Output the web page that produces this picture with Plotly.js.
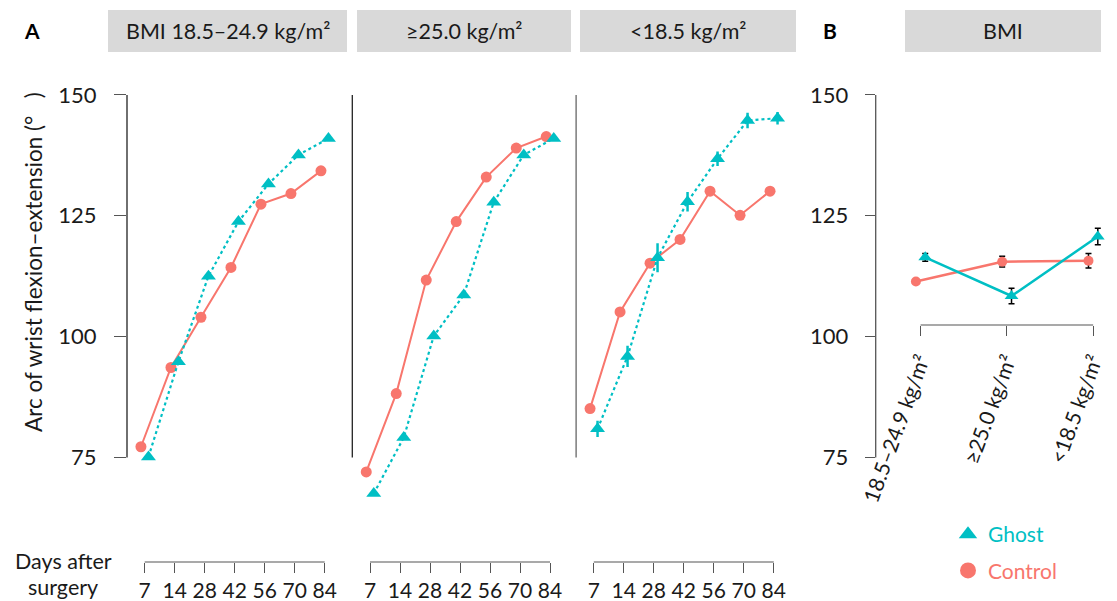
<!DOCTYPE html>
<html>
<head>
<meta charset="utf-8">
<script src="https://cdn.plot.ly/plotly-3.0.1.min.js"></script>
<style>html,body{margin:0;padding:0;background:#fff;}#chart{width:1117px;height:601px;}</style>
</head>
<body>
<div id="chart"></div>
<script>
// ---------------- DATA ----------------
const days = ['7', '14', '28', '42', '56', '70', '84'];
const facetLabels = ['BMI 18.5–24.9 kg/m²', '≥25.0 kg/m²', '<18.5 kg/m²'];
const bmiCategories = ['18.5–24.9 kg/m²', '≥25.0 kg/m²', '<18.5 kg/m²'];

// Panel A: arc of wrist flexion-extension by day (Control / Ghost)
const controlNormal = [77.2, 93.6, 104.0, 114.3, 127.4, 129.6, 134.3];
const ghostNormal   = [75.1, 94.8, 112.5, 123.8, 131.6, 137.6, 141.0];
const controlOver   = [72.0, 88.2, 111.7, 123.8, 133.0, 139.0, 141.4];
const ghostOver     = [67.5, 79.1, 100.1, 108.6, 127.8, 137.6, 141.0];
const controlUnder  = [85.1, 105.1, 115.2, 120.1, 130.1, 125.1, 130.1];
const ghostUnder    = [80.9, 95.9, 116.3, 127.9, 136.8, 144.7, 145.2];
const ghostUnderErr = [1.7, 2.2, 3.0, 2.0, 1.5, 1.6, 1.3];

// Panel B: summary by BMI group
const controlB    = [111.4, 115.5, 115.7];
const controlBErr = [0.4, 1.1, 1.5];
const ghostB      = [116.4, 108.4, 120.7];
const ghostBErr   = [0.8, 1.6, 1.7];

// ---------------- LAYOUT HELPERS ----------------
const W = 1117, H = 601;
const X = px => px / W;
const Y = py => 1 - py / H;
const GHOST = '#00BFC4', CONTROL = '#F8766D';
const FONT = 'Lato, "Open Sans", sans-serif';
const TXT = '#1a1a1a';

const idx = days.map((d, i) => i);
const dodgeA = 0.125, dodgeB = 0.054;
const shift = (arr, d) => arr.map(v => v + d);

const traces = [];
const facets = [
  {c: controlNormal, g: ghostNormal, ge: null, xa: 'x'},
  {c: controlOver, g: ghostOver, ge: null, xa: 'x2'},
  {c: controlUnder, g: ghostUnder, ge: ghostUnderErr, xa: 'x3'}
];
facets.forEach(f => {
  traces.push({
    type: 'scatter', mode: 'lines+markers', xaxis: f.xa, yaxis: 'y',
    x: shift(idx, -dodgeA), y: f.c, showlegend: false, cliponaxis: false,
    line: {color: CONTROL, width: 2}, marker: {color: CONTROL, symbol: 'circle', size: 11}
  });
  const g = {
    type: 'scatter', mode: 'lines+markers', xaxis: f.xa, yaxis: 'y',
    x: shift(idx, dodgeA), y: f.g, showlegend: false, cliponaxis: false,
    line: {color: GHOST, width: 2.2, dash: 'dot'}, marker: {color: GHOST, symbol: 'triangle-up', size: 13}
  };
  if (f.ge) g.error_y = {type: 'data', array: f.ge, visible: true, color: GHOST, thickness: 2.5, width: 0};
  traces.push(g);
});

const catIdx = bmiCategories.map((c, i) => i);
traces.push({
  type: 'scatter', mode: 'lines+markers', xaxis: 'x4', yaxis: 'y4',
  x: shift(catIdx, -dodgeB), y: controlB, showlegend: false, cliponaxis: false,
  error_y: {type: 'data', array: controlBErr, visible: true, color: '#000', thickness: 1.5, width: 3},
  line: {color: CONTROL, width: 2.5}, marker: {color: CONTROL, symbol: 'circle', size: 10}
});
traces.push({
  type: 'scatter', mode: 'lines+markers', xaxis: 'x4', yaxis: 'y4',
  x: shift(catIdx, dodgeB), y: ghostB, showlegend: false, cliponaxis: false,
  error_y: {type: 'data', array: ghostBErr, visible: true, color: '#000', thickness: 1.5, width: 3},
  line: {color: GHOST, width: 2.5}, marker: {color: GHOST, symbol: 'triangle-up', size: 12}
});
// legend-only traces
traces.push({type: 'scatter', mode: 'markers', xaxis: 'x4', yaxis: 'y4', x: [null], y: [null],
  name: '<span style="color:' + GHOST + '">Ghost</span>', legendgroup: 'g',
  marker: {color: GHOST, symbol: 'triangle-up', size: 16}});
traces.push({type: 'scatter', mode: 'markers', xaxis: 'x4', yaxis: 'y4', x: [null], y: [null],
  name: '<span style="color:' + CONTROL + '">Control</span>', legendgroup: 'c',
  marker: {color: CONTROL, symbol: 'circle', size: 16}});

const yRange = [62, 152];
const yDom = [Y(520.2), Y(85.3)];
const facetLeft = [127, 352.3, 576.1];
const facetW = 218.7;
const xRange = [-0.59, 6.7];
const xAxisY = Y(562);

function dayAxis(i) {
  return {
    domain: [X(facetLeft[i]), X(facetLeft[i] + facetW)], range: xRange,
    anchor: 'free', position: xAxisY,
    tickvals: idx, ticktext: days, ticks: 'outside', ticklen: 10, tickcolor: '#555', tickwidth: 1,
    ticklabelstandoff: 0,
    showline: false, showgrid: false, zeroline: false,
    tickfont: {size: 21, color: TXT, family: FONT}
  };
}

const shapes = [];
// y axis lines for facets (75-150)
facetLeft.forEach((l, i) => shapes.push({type: 'line', xref: 'paper', yref: 'y', x0: X(l), x1: X(l), y0: 75, y1: 150,
  line: {color: i === 2 ? '#666' : '#222', width: 1.3}}));
// x axis brackets
['x', 'x2', 'x3'].forEach(xa => shapes.push({type: 'line', xref: xa, yref: 'paper', x0: 0, x1: 6, y0: xAxisY, y1: xAxisY,
  line: {color: '#555', width: 1.2}}));
// panel B axes lines
shapes.push({type: 'line', xref: 'paper', yref: 'y4', x0: X(875.7), x1: X(875.7), y0: 75, y1: 150, line: {color: '#555', width: 1.3}});
shapes.push({type: 'line', xref: 'x4', yref: 'paper', x0: 0, x1: 2, y0: Y(325), y1: Y(325), line: {color: '#555', width: 1.2}});
// strips
const strips = [[108, 347], [357, 571], [580, 796], [905, 1101]];
strips.forEach(s => shapes.push({type: 'rect', xref: 'paper', yref: 'paper', x0: X(s[0]), x1: X(s[1]), y0: Y(52), y1: Y(10),
  fillcolor: '#D9D9D9', line: {width: 0}, layer: 'below'}));

const stripTexts = facetLabels.concat(['BMI']);
function ann(x, y, text, size, extra) {
  return Object.assign({xref: 'paper', yref: 'paper', x: X(x), y: Y(y), text: text, showarrow: false,
    xanchor: 'center', yanchor: 'middle', font: {size: size, color: TXT, family: FONT}}, extra || {});
}
const annotations = stripTexts.map((t, i) => ann((strips[i][0] + strips[i][1]) / 2, 31, t, 21.5));
annotations.push(ann(32, 31, '<b>A</b>', 21, {font: {size: 21, color: '#000', family: FONT}}));
annotations.push(ann(830, 31, '<b>B</b>', 21, {font: {size: 21, color: '#000', family: FONT}}));
annotations.push(ann(63, 561, 'Days after', 21.5));
annotations.push(ann(63, 587, 'surgery', 21.5));
annotations.push(ann(33, 262, 'Arc of wrist flexion–extension (°   )', 22.5, {textangle: -90}));

const layout = {
  width: W, height: H, margin: {l: 0, r: 0, t: 0, b: 0},
  paper_bgcolor: '#fff', plot_bgcolor: 'rgba(0,0,0,0)',
  font: {family: FONT, color: TXT},
  showlegend: true,
  legend: {x: X(948), y: Y(514), xanchor: 'left', yanchor: 'top', traceorder: 'grouped', tracegroupgap: 6,
    itemwidth: 30, font: {size: 21, family: FONT}, bgcolor: 'rgba(0,0,0,0)'},
  xaxis: dayAxis(0), xaxis2: dayAxis(1), xaxis3: dayAxis(2),
  yaxis: {
    domain: yDom, range: yRange, anchor: 'x',
    tickvals: [75, 100, 125, 150], ticks: 'outside', ticklen: 12, tickcolor: '#555',
    ticklabelstandoff: 13,
    showline: false, showgrid: false, zeroline: false,
    tickfont: {size: 22, color: TXT, family: FONT}
  },
  xaxis4: {
    domain: [X(875.7), X(1110.4)], range: [-0.52, 2.2], anchor: 'free', position: Y(325),
    tickvals: catIdx, ticktext: bmiCategories, tickangle: -70,
    ticks: 'outside', ticklen: 10, tickcolor: '#555', ticklabelstandoff: 4,
    showline: false, showgrid: false, zeroline: false,
    tickfont: {size: 21, color: TXT, family: FONT}
  },
  yaxis4: {
    domain: yDom, range: yRange, anchor: 'x4',
    tickvals: [75, 100, 125, 150], ticks: 'outside', ticklen: 10, tickcolor: '#555',
    ticklabelstandoff: 12,
    showline: false, showgrid: false, zeroline: false,
    tickfont: {size: 22, color: TXT, family: FONT}
  },
  shapes: shapes,
  annotations: annotations
};

Plotly.newPlot('chart', traces, layout, {displayModeBar: false, staticPlot: true});
</script>
</body>
</html>
